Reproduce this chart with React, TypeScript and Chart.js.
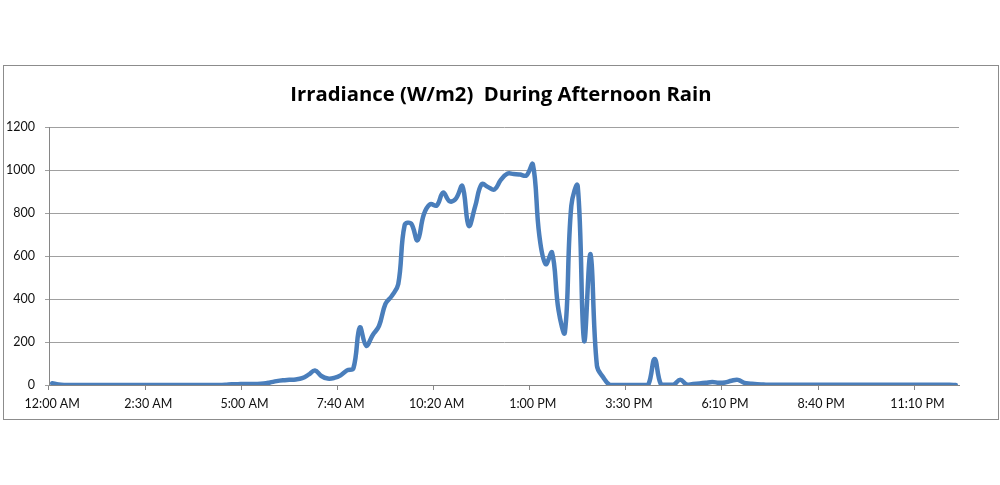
import { useEffect, useRef } from "react"
import { Chart, registerables } from "chart.js"

Chart.register(...registerables)

const chartTitle = "Irradiance (W/m2)  During Afternoon Rain"

// sample times (10 min logger, a few samples missing)
const times = [
  "12:00 AM", "12:10 AM", "12:20 AM", "12:30 AM", "12:40 AM", "12:50 AM",
  "1:00 AM", "1:10 AM", "1:20 AM", "1:30 AM", "1:40 AM", "1:50 AM",
  "2:00 AM", "2:10 AM", "2:20 AM", "2:30 AM", "2:40 AM", "2:50 AM",
  "3:00 AM", "3:10 AM", "3:20 AM", "3:30 AM", "3:40 AM", "3:50 AM",
  "4:00 AM", "4:10 AM", "4:20 AM", "4:30 AM", "4:40 AM", "4:50 AM",
  "5:00 AM", "5:10 AM", "5:20 AM", "5:30 AM", "5:40 AM", "5:50 AM",
  "6:00 AM", "6:10 AM", "6:20 AM", "6:30 AM", "6:40 AM", "6:50 AM",
  "7:00 AM", "7:10 AM", "7:20 AM", "7:40 AM", "7:50 AM",
  "8:00 AM", "8:10 AM", "8:20 AM", "8:30 AM", "8:40 AM", "8:50 AM",
  "9:00 AM", "9:10 AM", "9:20 AM", "9:30 AM", "9:40 AM", "9:50 AM",
  "10:00 AM", "10:20 AM", "10:30 AM", "10:40 AM", "10:50 AM",
  "11:00 AM", "11:10 AM", "11:20 AM", "11:30 AM", "11:40 AM", "11:50 AM",
  "12:00 PM", "12:10 PM", "12:20 PM", "12:30 PM", "12:40 PM",
  "1:00 PM", "1:10 PM", "1:20 PM", "1:30 PM", "1:40 PM", "1:50 PM",
  "2:00 PM", "2:10 PM", "2:20 PM", "2:30 PM", "2:40 PM", "2:50 PM",
  "3:00 PM", "3:10 PM", "3:20 PM", "3:30 PM", "3:40 PM", "3:50 PM",
  "4:00 PM", "4:10 PM", "4:20 PM", "4:30 PM", "4:40 PM", "4:50 PM",
  "5:00 PM", "5:10 PM", "5:20 PM", "5:30 PM", "5:40 PM", "5:50 PM",
  "6:10 PM", "6:20 PM", "6:30 PM", "6:40 PM", "6:50 PM",
  "7:00 PM", "7:10 PM", "7:20 PM", "7:30 PM", "7:40 PM", "7:50 PM",
  "8:00 PM", "8:10 PM", "8:20 PM", "8:30 PM", "8:40 PM", "8:50 PM",
  "9:00 PM", "9:10 PM", "9:20 PM", "9:30 PM", "9:40 PM", "9:50 PM",
  "10:00 PM", "10:10 PM", "10:20 PM", "10:30 PM", "10:40 PM", "10:50 PM",
  "11:00 PM", "11:10 PM", "11:20 PM", "11:30 PM", "11:40 PM", "11:50 PM",
  "11:55 PM", "11:59 PM",
]

// W/m2
const irradiance = [
  8, 2, 0, 0, 0, 0, 0, 0, 0, 0,
  0, 0, 0, 0, 0, 0, 0, 0, 0, 0,
  0, 0, 0, 0, 0, 0, 0, 1, 3, 4,
  5, 5, 5, 7, 12, 18, 22, 24, 26, 32,
  48, 68, 42, 30, 33, 45, 68, 78, 268, 183,
  232, 275, 378, 415, 470, 745, 752, 674, 795, 842,
  836, 896, 856, 868, 927, 741, 832, 935, 922, 910,
  955, 984, 983, 980, 976, 1028, 700, 563, 617, 350,
  245, 834, 927, 206, 609, 90, 35, 0, 0, 0,
  0, 0, 0, 0, 121, 2, 1, 2, 25, 2,
  5, 7, 10, 14, 10, 12, 20, 24, 10, 6,
  3, 2, 1, 1, 1, 1, 1, 1, 1, 1,
  1, 1, 1, 1, 1, 1, 1, 1, 1, 1,
  1, 1, 1, 1, 1, 1, 1, 1, 1, 1,
  1, 0,
]

const xTickLabels = [
  "12:00 AM", "2:30 AM", "5:00 AM", "7:40 AM", "10:20 AM",
  "1:00 PM", "3:30 PM", "6:10 PM", "8:40 PM", "11:10 PM",
]
const yTicks = [0, 200, 400, 600, 800, 1000, 1200]

const axisFont = { family: "Lato", size: 12.5 }

export default function App() {
  const chartRef = useRef<HTMLCanvasElement>(null)
  const chartInstance = useRef<Chart | null>(null)

  useEffect(() => {
    if (!chartRef.current) return
    if (chartInstance.current) chartInstance.current.destroy()

    const ctx = chartRef.current.getContext("2d")
    if (!ctx) return

    const showTick = (i: number) => xTickLabels.includes(times[i])

    const config: any = {
      type: "line",
      data: {
        labels: times,
        datasets: [
          {
            data: irradiance,
            borderColor: "#4a7ebb",
            borderWidth: 4.5,
            borderCapStyle: "round",
            borderJoinStyle: "round",
            pointRadius: 0,
            tension: 0.4,
            fill: false,
          },
        ],
      },
      options: {
        animation: false,
        responsive: true,
        maintainAspectRatio: false,
        layout: { padding: 0 },
        plugins: {
          legend: { display: false },
          tooltip: { enabled: false },
          title: {
            display: true,
            text: chartTitle,
            color: "#000",
            font: { family: "Open Sans", size: 20.3, weight: "bold" },
            padding: { top: 17, bottom: 20 },
          },
        },
        scales: {
          x: {
            offset: true,
            grid: {
              offset: true,
              drawOnChartArea: false,
              tickLength: 5,
              color: (c: any) => (showTick(c.index) ? "#868686" : "rgba(0,0,0,0)"),
            },
            border: { color: "#868686" },
            ticks: {
              autoSkip: false,
              maxRotation: 0,
              minRotation: 0,
              padding: 6,
              color: "#111",
              font: axisFont,
              callback: (_v: any, i: number) => (showTick(i) ? times[i] : ""),
            },
            afterFit: (s: any) => {
              s.height = 34
            },
          },
          y: {
            min: 0,
            max: 1200,
            afterBuildTicks: (s: any) => {
              s.ticks = yTicks.map((v) => ({ value: v }))
            },
            grid: { color: "#a0a0a0", tickLength: 4 },
            border: { color: "#868686" },
            ticks: {
              padding: 10,
              color: "#111",
              font: axisFont,
              callback: (v: any) => String(v),
            },
            afterFit: (s: any) => {
              s.width = 45
            },
          },
          // empty right margin so the title stays centred on the whole frame
          spacer: {
            type: "linear",
            position: "right",
            grid: { display: false, drawTicks: false },
            border: { display: false },
            ticks: { display: false },
            afterFit: (s: any) => {
              s.width = 39
            },
          },
        },
      },
    }

    chartInstance.current = new Chart(ctx, config)

    return () => {
      if (chartInstance.current) {
        chartInstance.current.destroy()
        chartInstance.current = null
      }
    }
  }, [])

  return (
    <div style={{ position: "absolute", left: 0, top: 0, width: 1000, height: 485, background: "#fff" }}>
      <div
        style={{
          position: "absolute",
          left: 3,
          top: 65,
          width: 996,
          height: 355,
          boxSizing: "border-box",
          border: "1px solid #8c8c8c",
        }}
      >
        <div style={{ position: "relative", width: 994, height: 353 }}>
          <canvas ref={chartRef} />
        </div>
      </div>
    </div>
  )
}
